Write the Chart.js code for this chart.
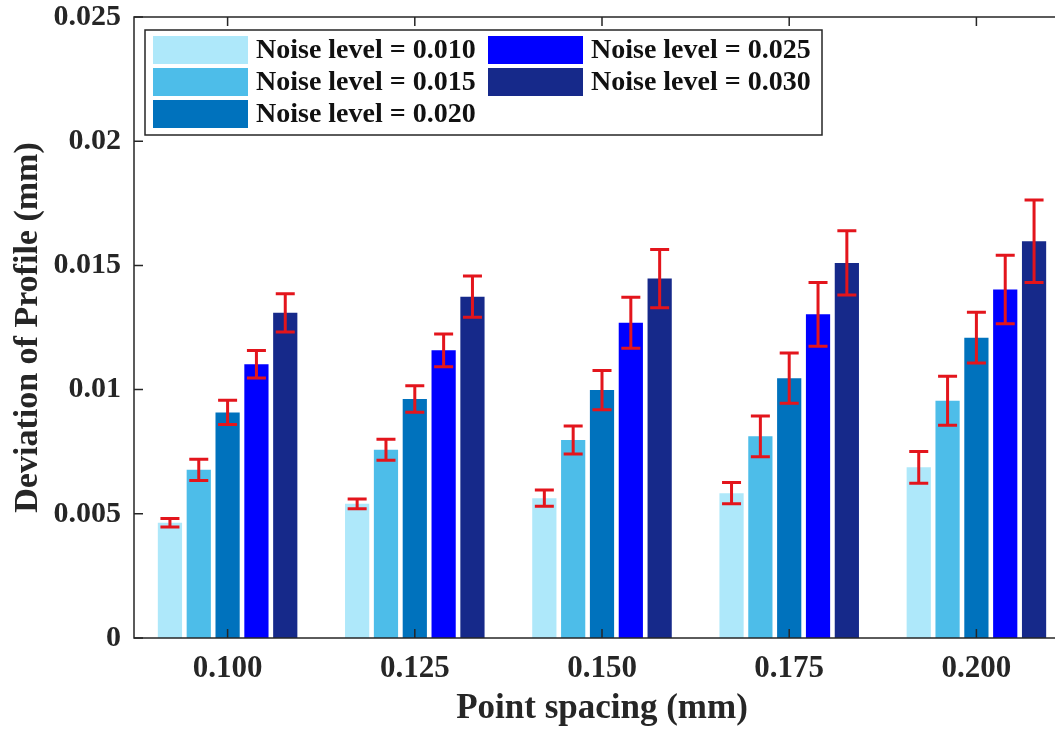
<!DOCTYPE html>
<html>
<head>
<meta charset="utf-8">
<script src="https://cdn.jsdelivr.net/npm/chart.js@4/dist/chart.umd.min.js"></script>
<style>
  html, body { margin: 0; padding: 0; background: #fff; overflow: hidden; }
  #wrap { width: 1072px; height: 730px; }
</style>
</head>
<body>
<div id="wrap"><canvas id="chart" width="1072" height="730"></canvas></div>
<script>
const spacing = ['0.100', '0.125', '0.150', '0.175', '0.200'];

const noise010 = [0.00464, 0.00540, 0.00563, 0.00583, 0.00687];
const noise015 = [0.00677, 0.00758, 0.00797, 0.00812, 0.00955];
const noise020 = [0.00908, 0.00962, 0.00998, 0.01046, 0.01209];
const noise025 = [0.01102, 0.01158, 0.01269, 0.01303, 0.01403];
const noise030 = [0.01309, 0.01374, 0.01447, 0.01510, 0.01597];

const err010 = [0.00017, 0.00020, 0.00033, 0.00043, 0.00064];
const err015 = [0.00043, 0.00042, 0.00056, 0.00082, 0.00099];
const err020 = [0.00049, 0.00053, 0.00079, 0.00101, 0.00102];
const err025 = [0.00055, 0.00066, 0.00103, 0.00128, 0.00138];
const err030 = [0.00077, 0.00083, 0.00117, 0.00129, 0.00166];

const yTicks = [0, 0.005, 0.01, 0.015, 0.02, 0.025];

const FONT = '"Liberation Serif", "Times New Roman", serif';
const INK = '#262626';

function series(label, data, errors, color) {
    return { label: label, data: data, errors: errors, backgroundColor: color, borderWidth: 0,
        categoryPercentage: 0.77, barPercentage: 0.84 };
}

// red error bars with caps, centred on each bar
const errorBars = {
    id: 'errorBars',
    afterDatasetsDraw(chart) {
        const ctx = chart.ctx;
        const y = chart.scales.y;
        ctx.save();
        ctx.strokeStyle = '#e3151c';
        ctx.lineWidth = 3;
        chart.data.datasets.forEach((ds, i) => {
            chart.getDatasetMeta(i).data.forEach((bar, j) => {
                const top = y.getPixelForValue(ds.data[j] + ds.errors[j]);
                const bot = y.getPixelForValue(ds.data[j] - ds.errors[j]);
                const cap = 9.5;
                ctx.beginPath();
                ctx.moveTo(bar.x, top); ctx.lineTo(bar.x, bot);
                ctx.moveTo(bar.x - cap, top); ctx.lineTo(bar.x + cap, top);
                ctx.moveTo(bar.x - cap, bot); ctx.lineTo(bar.x + cap, bot);
                ctx.stroke();
            });
        });
        ctx.restore();
    }
};

// box around the plot with inward ticks
const axesBox = {
    id: 'axesBox',
    afterDraw(chart) {
        const ctx = chart.ctx;
        const a = chart.chartArea;
        const x = chart.scales.x, y = chart.scales.y;
        ctx.save();
        ctx.strokeStyle = INK;
        ctx.lineWidth = 1.5;
        ctx.strokeRect(a.left, a.top, a.right - a.left, a.bottom - a.top);
        ctx.beginPath();
        yTicks.forEach(v => {
            const py = y.getPixelForValue(v);
            ctx.moveTo(a.left, py); ctx.lineTo(a.left + 9, py);
            ctx.moveTo(a.right, py); ctx.lineTo(a.right - 9, py);
        });
        spacing.forEach((s, i) => {
            const px = x.getPixelForValue(i);
            ctx.moveTo(px, a.bottom); ctx.lineTo(px, a.bottom - 9);
            ctx.moveTo(px, a.top); ctx.lineTo(px, a.top + 9);
        });
        ctx.stroke();
        ctx.restore();
    }
};

// two-column legend, filled top to bottom
const boxLegend = {
    id: 'boxLegend',
    afterDraw(chart) {
        const ctx = chart.ctx;
        const left = 145, top = 30, w = 677, h = 105;
        ctx.save();
        ctx.fillStyle = '#fff';
        ctx.fillRect(left, top, w, h);
        ctx.strokeStyle = INK;
        ctx.lineWidth = 1.5;
        ctx.strokeRect(left, top, w, h);
        ctx.font = 'bold 28px ' + FONT;
        ctx.textBaseline = 'middle';
        chart.data.datasets.forEach((ds, i) => {
            const col = Math.floor(i / 3), row = i % 3;
            const sx = left + 8 + col * 335;
            const cy = top + 20 + row * 32;
            ctx.fillStyle = ds.backgroundColor;
            ctx.fillRect(sx, cy - 14, 95, 28);
            ctx.fillStyle = '#111';
            ctx.fillText(ds.label, sx + 103, cy + 1);
        });
        ctx.restore();
    }
};

new Chart(document.getElementById('chart'), {
    type: 'bar',
    data: {
        labels: spacing,
        datasets: [
            series('Noise level = 0.010', noise010, err010, '#aee8fa'),
            series('Noise level = 0.015', noise015, err015, '#4dbde9'),
            series('Noise level = 0.020', noise020, err020, '#0072bd'),
            series('Noise level = 0.025', noise025, err025, '#0000ff'),
            series('Noise level = 0.030', noise030, err030, '#16298a')
        ]
    },
    options: {
        responsive: false,
        animation: false,
        layout: { padding: { top: 17, right: 2, left: 0, bottom: 0 } },
        plugins: { legend: { display: false }, tooltip: { enabled: false } },
        scales: {
            x: {
                grid: { display: false, drawTicks: false },
                border: { display: false },
                ticks: { color: INK, padding: 12, font: { family: FONT, size: 31, weight: 'bold' } },
                title: { display: true, text: 'Point spacing (mm)', color: INK, padding: { top: 0, bottom: 0 },
                    font: { family: FONT, size: 35, weight: 'bold' } },
                afterFit(scale) { scale.height = 92; }
            },
            y: {
                min: 0, max: 0.025,
                grid: { display: false, drawTicks: false },
                border: { display: false },
                ticks: { stepSize: 0.005, color: INK, padding: 13,
                    font: { family: FONT, size: 30, weight: 'bold' },
                    callback: v => String(+v.toFixed(3)) },
                title: { display: true, text: 'Deviation of Profile (mm)', color: INK, padding: { top: 8, bottom: 0 },
                    font: { family: FONT, size: 34, weight: 'bold' } },
                afterFit(scale) {
                    scale.width = 134;
                    scale.paddingTop = 0;
                    scale.paddingBottom = 0;
                }
            }
        }
    },
    plugins: [errorBars, axesBox, boxLegend]
});
</script>
</body>
</html>
